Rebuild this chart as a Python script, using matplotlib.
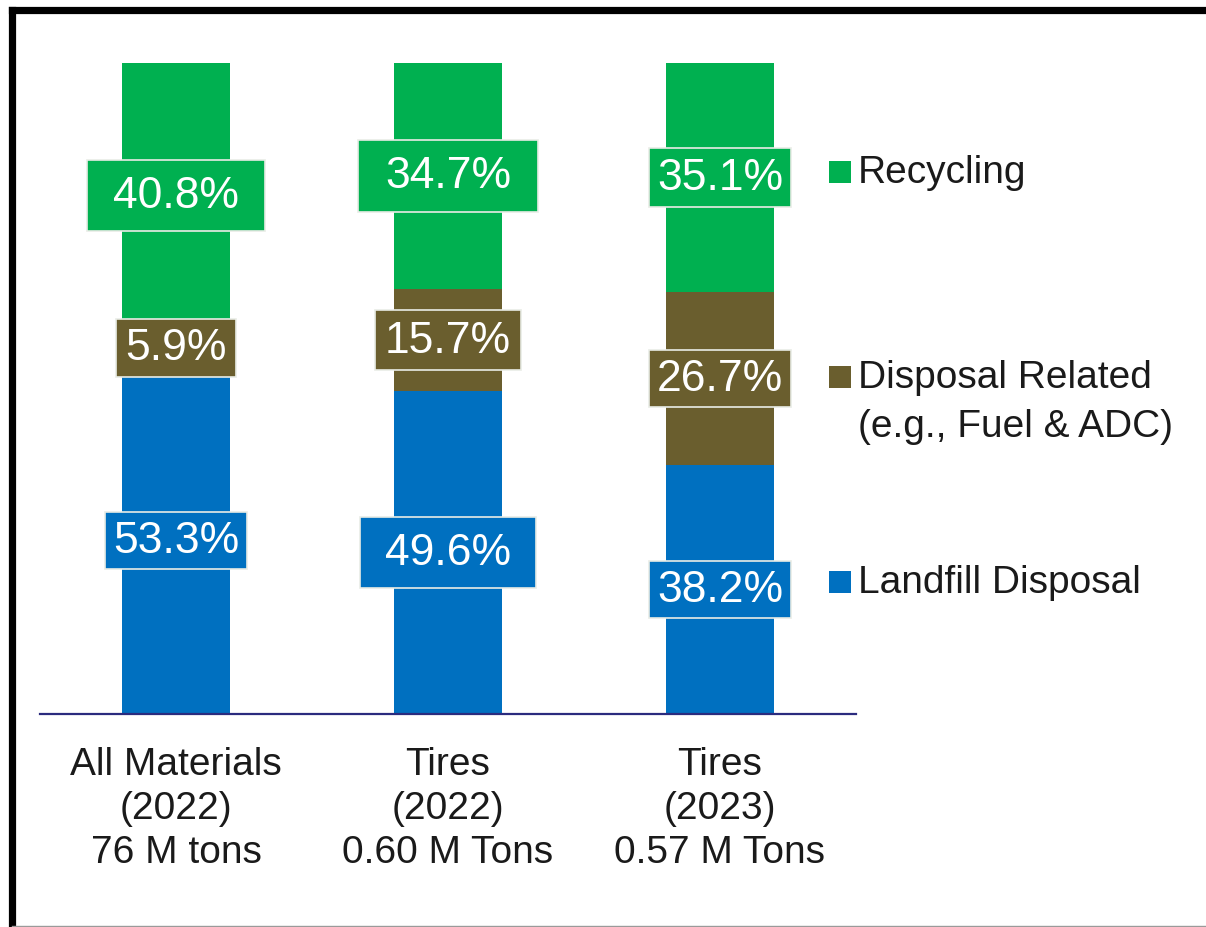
import matplotlib
matplotlib.use("Agg")
import matplotlib.pyplot as plt
from matplotlib.patches import Rectangle
from matplotlib.lines import Line2D
import numpy as np

# ── data ──────────────────────────────────────────────────────────────
categories = ["All Materials\n(2022)\n76 M tons",
              "Tires\n(2022)\n0.60 M Tons",
              "Tires\n(2023)\n0.57 M Tons"]
landfill = [53.3, 49.6, 38.2]
disposal_related = [5.9, 15.7, 26.7]
recycling = [40.8, 34.7, 35.1]
series_names = ["Landfill Disposal", "Disposal Related\n(e.g., Fuel & ADC)", "Recycling"]

# ── style ─────────────────────────────────────────────────────────────
colors = ["#0070C0", "#6A5E2E", "#00B050"]
FONT = "Liberation Sans"
FS = 28        # axis + legend text
FS_LBL = 32    # value labels inside the bars
# label box sizes (x in category units, y in percent) per series, per bar
box_w = [[0.522, 0.645, 0.522], [0.44, 0.535, 0.522], [0.654, 0.66, 0.522]]
box_h = [[8.9, 11.0, 8.8], [9.0, 9.2, 8.8], [10.9, 11.0, 9.0]]

W, H = 1206, 928
plt.rcParams["font.family"] = [FONT, "DejaVu Sans"]
fig = plt.figure(figsize=(W / 100, H / 100), dpi=100)


def fx(px):
    return px / W


def fy(py):
    return 1 - py / H


ax = fig.add_axes([fx(40), fy(715), fx(856) - fx(40), fy(64) - fy(715)])

x = np.arange(len(categories))
series = [landfill, disposal_related, recycling]
bottom = np.zeros(len(categories))
for s, (vals, col) in enumerate(zip(series, colors)):
    vals = np.array(vals)
    ax.bar(x, vals, width=0.40, bottom=bottom, color=col, linewidth=0, zorder=2)
    for i in range(len(x)):
        yc = bottom[i] + vals[i] / 2
        w, h = box_w[s][i], box_h[s][i]
        ax.add_patch(Rectangle((x[i] - w / 2, yc - h / 2), w, h,
                               facecolor=col, edgecolor="#e9ece6",
                               linewidth=1.2, zorder=3))
        ax.text(x[i], yc, f"{vals[i]:.1f}%", ha="center", va="center",
                color="white", fontsize=FS_LBL, zorder=4)
    bottom += vals

ax.set_xlim(-0.5, 2.5)
ax.set_ylim(0, 100)
ax.set_yticks([])
ax.set_xticks(x)
ax.set_xticklabels(categories, fontsize=FS, color="#1a1a1a", linespacing=1.29)
ax.tick_params(axis="x", length=0, pad=23)
for side in ["top", "left", "right"]:
    ax.spines[side].set_visible(False)
ax.spines["bottom"].set_color("#2b2b7e")
ax.spines["bottom"].set_linewidth(1.6)
ax.set_facecolor("none")

# ── legend (manual, to keep the wide Excel-like spacing) ─────────────
leg_y = [583, 378, 173]
for name, col, yy in zip(series_names, colors, leg_y):
    fig.add_artist(Rectangle((fx(829), fy(yy + 11)), fx(22), fy(0) - fy(22),
                             transform=fig.transFigure, facecolor=col,
                             edgecolor="none"))
    n_lines = name.count("\n")
    fig.text(fx(858), fy(yy + n_lines * 24.5), name, ha="left", va="center",
             fontsize=FS, color="#1a1a1a", linespacing=1.44)

# ── frame ─────────────────────────────────────────────────────────────
fig.add_artist(Line2D([fx(11.5), 1], [fy(11), fy(11)], color="black",
                      linewidth=5.2, solid_capstyle="projecting",
                      transform=fig.transFigure))
fig.add_artist(Line2D([fx(11.5), fx(11.5)], [fy(11), fy(926)], color="black",
                      linewidth=5.2, transform=fig.transFigure))
fig.add_artist(Line2D([fx(11.5), 1], [fy(927), fy(927)], color="#9a9a9a",
                      linewidth=1.0, transform=fig.transFigure))

fig.savefig("out.png", dpi=100)
